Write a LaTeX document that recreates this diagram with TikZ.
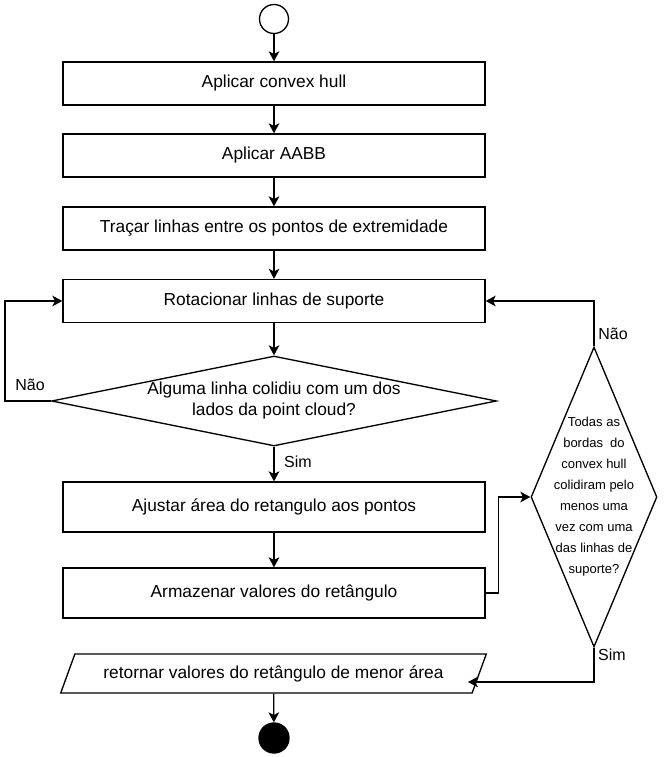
\documentclass[tikz,border=0pt]{standalone}
\usepackage{fontspec}
\setmainfont{Liberation Sans}
\usetikzlibrary{shapes.geometric,arrows.meta}
\begin{document}
\begin{tikzpicture}[x=0.75pt,y=-0.75pt,
  line width=1pt,
  every node/.style={font=\fontsize{13}{15.75}\selectfont},
  boxnode/.style={draw,rectangle,inner sep=0pt,minimum width=316.5pt,minimum height=32.25pt},
  tallbox/.style={boxnode,minimum height=37.5pt},
  decision/.style={draw,diamond,inner sep=0pt},
  arr/.style={-{Stealth[length=7.5pt,width=8pt,inset=2pt]}},
  lbl/.style={font=\fontsize{12}{14}\selectfont}]
\useasboundingbox (0,0) rectangle (665,757);
\node[draw,circle,minimum size=21.75pt,inner sep=0pt] (start) at (274,19) {};
\node[boxnode] (b1) at (274,83.5) {Aplicar convex hull};
\node[boxnode] (b2) at (274,155.5) {Aplicar AABB};
\node[boxnode] (b3) at (274,228.5) {Traçar linhas entre os pontos de extremidade};
\node[boxnode] (b4) at (274,301) {Rotacionar linhas de suporte};
\node[decision,minimum width=333.75pt,minimum height=67.5pt,
  label={[align=center,font=\fontsize{13}{15.75}\selectfont]center:Alguma linha colidiu com um dos\\lados da point cloud?}] (d1) at (274,401) {};
\node[tallbox] (b5) at (274,507) {Ajustar área do retangulo aos pontos};
\node[tallbox] (b6) at (274,593) {Armazenar valores do retângulo};
\node[decision,minimum width=94.5pt,minimum height=225pt,
  label={[align=center,font=\fontsize{9.75}{15.75}\selectfont]center:Todas as\\bordas~ do\\convex hull\\colidiram pelo\\menos uma\\vez com uma\\das linhas de\\suporte?}] (d2) at (594,497) {};
\node[draw,trapezium,trapezium left angle=53.4,trapezium right angle=126.6,
  trapezium stretches=true,minimum width=320.25pt,minimum height=29.25pt,inner sep=0pt] (out) at (273.5,673.5) {retornar valores do retângulo de menor área};
\node[draw,circle,fill=black,minimum size=22.5pt,inner sep=0pt] (end) at (274,738) {};
\coordinate (outin) at (468,682);

\draw[arr] (start) -- (b1);
\draw[arr] (b1) -- (b2);
\draw[arr] (b2) -- (b3);
\draw[arr] (b3) -- (b4);
\draw[arr] (b4) -- (d1);
\draw[arr] (d1) -- (b5);
\draw[arr] (b5) -- (b6);
\draw[arr] (out) -- (end);
\draw[arr] (d1.west) -- ++(-46,0) |- (b4.west);
\draw[arr] (b6.east) -- ++(13,0) |- (d2.west);
\draw[arr] (d2.north) |- (b4.east);
\draw[arr] (d2.south) |- (outin);

\node[lbl] (nao1) at (30,385) {Não};
\node[lbl] (sim1) at (298,462) {Sim};
\node[lbl] (nao2) at (613,334) {Não};
\node[lbl] (sim2) at (612,655) {Sim};
\end{tikzpicture}
\end{document}
